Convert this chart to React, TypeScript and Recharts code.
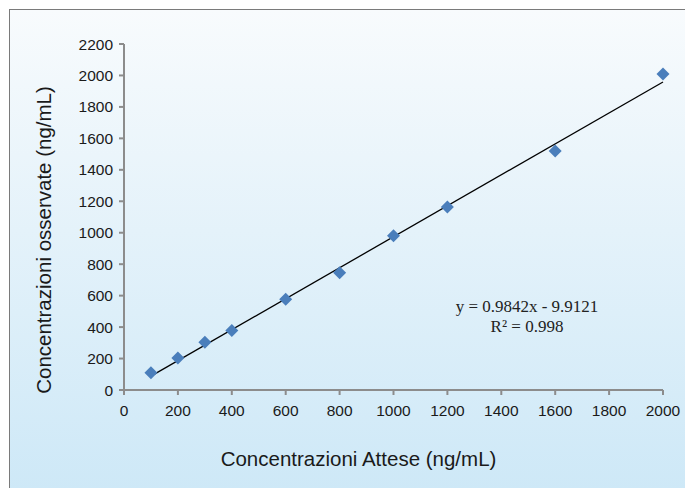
import React from 'react';
import { ScatterChart, Scatter, XAxis, YAxis } from 'recharts';

const expected = [100, 200, 300, 400, 600, 800, 1000, 1200, 1600, 2000];
const observed = [110, 203, 303, 378, 577, 745, 980, 1163, 1520, 2010];
const xTicks = [0, 200, 400, 600, 800, 1000, 1200, 1400, 1600, 1800, 2000];
const yTicks = [0, 200, 400, 600, 800, 1000, 1200, 1400, 1600, 1800, 2000, 2200];
const slope = 0.9842;
const intercept = -9.9121;
const equationText = 'y = 0.9842x - 9.9121';
const r2Text = 'R² = 0.998';

const points = expected.map((x, i) => ({ x, y: observed[i] }));
const trend = [expected[0], expected[expected.length - 1]].map((x) => ({ x, y: slope * x + intercept }));

const Diamond = (props: any) => {
  const { cx, cy } = props;
  const r = 6.5;
  return (
    <polygon
      points={`${cx},${cy - r} ${cx + r},${cy} ${cx},${cy + r} ${cx - r},${cy}`}
      fill="#4a7ebb"
    />
  );
};

const axisColor = '#8c8c8c';
const font = 'Liberation Sans, Arial, sans-serif';

const XTick = (props: any) => {
  const { x, y, payload } = props;
  return (
    <text x={x} y={y + 21} textAnchor="middle" fontSize={15.5} fontFamily={font} fill="#1a1a1a">
      {payload.value}
    </text>
  );
};

const YTick = (props: any) => {
  const { x, y, payload } = props;
  return (
    <text x={x - 6} y={y + 5.5} textAnchor="end" fontSize={15.5} fontFamily={font} fill="#1a1a1a">
      {payload.value}
    </text>
  );
};

export default function App() {
  return (
    <div style={{ position: 'absolute', left: 0, top: 0, width: 685, height: 488, overflow: 'hidden', background: '#fff' }}>
      <div
        style={{
          position: 'absolute',
          left: 9,
          top: 9,
          width: 690,
          height: 490,
          border: '1px solid #7a7a7a',
          background: 'linear-gradient(to bottom, #f8fbfd 0%, #e4f2fa 45%, #cde8f7 100%)',
        }}
      />
      <div style={{ position: 'absolute', left: 0, top: 0 }}>
        <ScatterChart width={685} height={488} margin={{ top: 44, right: 22, bottom: 68, left: 64 }}>
          <XAxis
            type="number"
            dataKey="x"
            domain={[0, 2000]}
            ticks={xTicks}
            interval={0}
            stroke={axisColor}
            strokeWidth={2}
            tickSize={5}
            tickMargin={0}
            tick={<XTick />}
            height={30}
            label={{
              value: 'Concentrazioni Attese (ng/mL)',
              position: 'insideBottom',
              offset: -46,
              dx: -35,
              style: { fill: '#1a1a1a', fontSize: 20.5, fontFamily: font },
            }}
          />
          <YAxis
            type="number"
            dataKey="y"
            domain={[0, 2200]}
            ticks={yTicks}
            interval={0}
            stroke={axisColor}
            strokeWidth={2}
            tickSize={5}
            tickMargin={0}
            tick={<YTick />}
            width={60}
            label={{
              value: 'Concentrazioni osservate (ng/mL)',
              angle: -90,
              position: 'insideLeft',
              offset: -20,
              dy: 23,
              style: { textAnchor: 'middle', fill: '#1a1a1a', fontSize: 20.5, fontFamily: font },
            }}
          />
          <Scatter
            data={trend}
            line={{ stroke: '#000', strokeWidth: 1.3 }}
            shape={() => null}
            isAnimationActive={false}
          />
          <Scatter data={points} shape={<Diamond />} isAnimationActive={false} />
          <text x={527} y={312} textAnchor="middle" fontSize={17} fontFamily="Liberation Serif, Times New Roman, serif" fill="#222">
            {equationText}
          </text>
          <text x={527} y={332} textAnchor="middle" fontSize={17} fontFamily="Liberation Serif, Times New Roman, serif" fill="#222">
            {r2Text}
          </text>
        </ScatterChart>
      </div>
    </div>
  );
}
